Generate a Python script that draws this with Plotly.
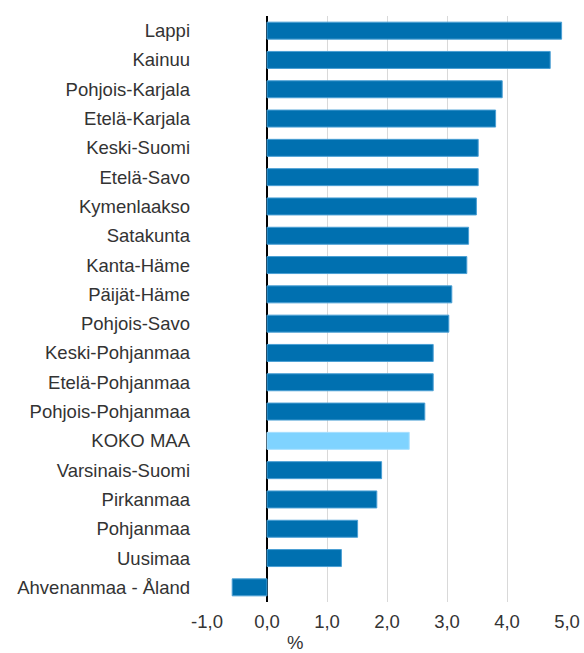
import plotly.graph_objects as go

regions = ["Lappi", "Kainuu", "Pohjois-Karjala", "Etelä-Karjala", "Keski-Suomi",
           "Etelä-Savo", "Kymenlaakso", "Satakunta", "Kanta-Häme", "Päijät-Häme",
           "Pohjois-Savo", "Keski-Pohjanmaa", "Etelä-Pohjanmaa", "Pohjois-Pohjanmaa",
           "KOKO MAA", "Varsinais-Suomi", "Pirkanmaa", "Pohjanmaa", "Uusimaa",
           "Ahvenanmaa - Åland"]
values = [4.91, 4.72, 3.92, 3.81, 3.52, 3.52, 3.49, 3.36, 3.33, 3.08,
          3.03, 2.77, 2.77, 2.63, 2.37, 1.91, 1.83, 1.51, 1.24, -0.58]
x_ticks = [-1, 0, 1, 2, 3, 4, 5]
x_tick_labels = ["-1,0", "0,0", "1,0", "2,0", "3,0", "4,0", "5,0"]

colors = ["#7FD3FF" if r == "KOKO MAA" else "#0070B0" for r in regions]
line_colors = ["#A8E0FF" if r == "KOKO MAA" else "#4A9FD4" for r in regions]

fig = go.Figure(go.Bar(
    y=regions, x=values, orientation="h",
    marker=dict(color=colors, line=dict(color=line_colors, width=1)),
    width=0.58,
))

fig.update_layout(
    width=584, height=653,
    margin=dict(l=207, r=17, t=16, b=51, autoexpand=False),
    paper_bgcolor="white", plot_bgcolor="white",
    font=dict(family="Liberation Sans, Arial, sans-serif", size=18.5, color="#333333"),
    showlegend=False,
    xaxis=dict(
        range=[-1, 5], tickvals=x_ticks, ticktext=x_tick_labels,
        showgrid=True, gridcolor="#d9d9d9", gridwidth=1,
        zeroline=True, zerolinecolor="black", zerolinewidth=2,
        showline=False, ticks="", ticklabelstandoff=6, automargin=False,
        tickfont=dict(size=18.5, color="#333333"),
        fixedrange=True,
    ),
    yaxis=dict(
        autorange="reversed", showgrid=False, showline=False, ticks="",
        ticklabelstandoff=16, automargin=False,
        tickfont=dict(size=18.5, color="#333333"),
    ),
    annotations=[dict(text="%", x=0.244, xref="paper", xanchor="center",
                      y=0, yref="paper", yshift=-28, showarrow=False, yanchor="top",
                      font=dict(size=18.5, color="#333333"))],
)

fig.write_html("out.html", config={"displayModeBar": False},
               post_script="document.body.style.margin='0';")
